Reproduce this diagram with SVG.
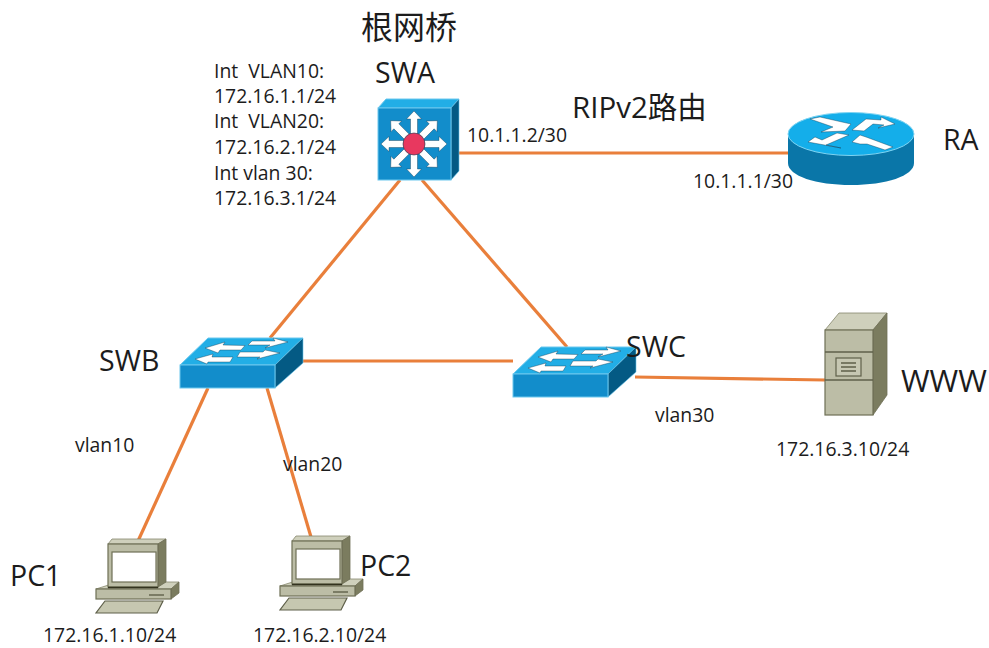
<svg xmlns="http://www.w3.org/2000/svg" width="989" height="648" viewBox="0 0 989 648">
<style>
text{font-family:"Open Sans","Noto Sans CJK SC",sans-serif;fill:#1c1c1c}
.s{font-size:19.4px}
.b{font-size:28.5px}
.c{stroke:#E97F3B;stroke-width:3.2;fill:none}
.ar{fill:#fff;stroke:#12384f;stroke-width:.4}
.bf{fill:#128dcb;stroke:#6cc8ee;stroke-width:1}
.bt{fill:#22aee6;stroke:#6cc8ee;stroke-width:1}
.bs{fill:#045a84;stroke:#6cc8ee;stroke-width:.6}
.gf{fill:#bcbda6;stroke:#6e6f55;stroke-width:1.2}
.gt{fill:#cfd0bc;stroke:#85866c;stroke-width:.8}
.gs{fill:#7b7c5f;stroke:#6e6f55;stroke-width:.8}
.gl{stroke:#5f604a;stroke-width:1.4;fill:none}
.sh{fill:#c6c7b0;stroke:#5f604a;stroke-width:1.2}
</style>
<defs>
<polygon id="spoke" class="ar" points="0,-33 7.5,-25 3.5,-25 3.5,-8 -3.5,-8 -3.5,-25 -7.5,-25"/>
<g id="sw">
<polygon class="bt" points="180,365 208,338 303,338 275,365"/>
<polygon class="bs" points="275,365 303,338 303,363 275,388"/>
<rect class="bf" x="180" y="365" width="95" height="23"/>
<polygon class="ar" points="205,348 225,342 223,345 245,345.5 241,350 220,350 218,353"/>
<polygon class="ar" points="288,342 273,338 275,341 252,341 248,345 270,345 265,348"/>
<polygon class="ar" points="195,359 213,354 212,357 233,357 230,362 208,362 207,364"/>
<polygon class="ar" points="280,353 265,350 263,352 240,352 237,357 260,357 257,359"/>
</g>
<g id="pc">
<polygon class="gt" points="96,589 118,582 179,582 171,589"/>
<polygon class="gs" points="171,589 179,582 179,593 171,599"/>
<rect class="gf" x="96" y="589" width="75" height="10"/>
<line class="gl" x1="149" y1="595" x2="164" y2="595"/>
<polygon class="sh" points="105,601 163,601 157,613 96,613"/>
<polygon class="gt" points="108,544 112,539 166,539 158,544"/>
<polygon class="gs" points="158,544 166,539 166,582 158,587"/>
<rect class="gf" x="108" y="544" width="50" height="43"/>
<rect x="112" y="552" width="44" height="30" fill="#fff" stroke="#6e6f55" stroke-width="1.2"/>
<line x1="108" y1="587.5" x2="158" y2="587.5" stroke="#33331f" stroke-width="1.4"/>
</g>
</defs>
<rect width="989" height="648" fill="#fff"/>
<g id="connectors">
<line class="c" x1="459" y1="153" x2="790" y2="153"/>
<line class="c" x1="400" y1="180" x2="270" y2="338"/>
<line class="c" x1="422" y1="180" x2="567" y2="347"/>
<line class="c" x1="303" y1="361" x2="513" y2="361"/>
<line class="c" x1="635" y1="377" x2="825" y2="380"/>
<line class="c" x1="208" y1="388" x2="138" y2="541"/>
<line class="c" x1="267" y1="388" x2="311" y2="537"/>
</g>
<g id="SWA">
<polygon class="bt" points="378,108 386,99 459,99 451,108"/>
<polygon class="bs" points="451,108 459,99 459,171 451,180"/>
<rect class="bf" x="378" y="108" width="73" height="72"/>
<g transform="translate(414 144)">
<use href="#spoke"/>
<use href="#spoke" transform="rotate(45)"/>
<use href="#spoke" transform="rotate(90)"/>
<use href="#spoke" transform="rotate(135)"/>
<use href="#spoke" transform="rotate(180)"/>
<use href="#spoke" transform="rotate(225)"/>
<use href="#spoke" transform="rotate(270)"/>
<use href="#spoke" transform="rotate(315)"/>
<circle r="11" fill="#e8385f" stroke="#12384f" stroke-width=".6"/>
</g>
<text x="361" y="39" font-size="32">根网桥</text>
<text class="b" x="375" y="83">SWA</text>
<text class="s" x="214" y="78" xml:space="preserve">Int  VLAN10:</text>
<text class="s" x="214" y="103">172.16.1.1/24</text>
<text class="s" x="214" y="128" xml:space="preserve">Int  VLAN20:</text>
<text class="s" x="214" y="154">172.16.2.1/24</text>
<text class="s" x="214" y="180">Int vlan 30:</text>
<text class="s" x="214" y="205">172.16.3.1/24</text>
<text class="s" x="467" y="142">10.1.1.2/30</text>
</g>
<g id="RA">
<path d="M788,134 V163 C788,176 816,185 851,185 C886,185 914,176 914,163 V134 Z" fill="#0a76a8"/>
<ellipse cx="851" cy="134" rx="63" ry="21.5" fill="#14aeea" stroke="#7fd4f2" stroke-width="1"/>
<polygon class="ar" points="810,119 820,117 842,122 851,124 845,131 821,132 833,127"/>
<polygon class="ar" points="895,124 881,117 881,120 866,119 852,130 864,131 873,124 884,125 878,128"/>
<polygon class="ar" points="808,142 841,148 826,145 849,135 837,133 822,140 815,137"/>
<polygon class="ar" points="852,142 860,135 866,137 893,147 885,150 867,144 860,144"/>
<text class="b" x="943" y="150">RA</text>
<text class="s" x="693" y="188">10.1.1.1/30</text>
<text x="572" y="118" font-size="29.5">RIPv2路由</text>
</g>
<g id="SWB">
<use href="#sw"/>
<text class="b" x="99" y="371">SWB</text>
<text class="s" x="75" y="452">vlan10</text>
<text class="s" x="283" y="471">vlan20</text>
</g>
<g id="SWC">
<use href="#sw" transform="translate(333 9)"/>
<text class="b" x="626" y="357">SWC</text>
<text class="s" x="655" y="422">vlan30</text>
</g>
<g id="WWW">
<polygon class="gt" points="825,330 839,313 887,313 873,330"/>
<polygon class="gs" points="873,330 887,313 887,395 873,415"/>
<rect class="gf" x="825" y="330" width="48" height="85"/>
<line class="gl" x1="825" y1="352" x2="873" y2="352"/>
<line class="gl" x1="825" y1="380" x2="873" y2="380"/>
<rect x="836" y="358" width="25" height="18" fill="#c6c7b2" stroke="#5f604a" stroke-width="1.2"/>
<path class="gl" d="M841,363H856M841,367H856M841,371H856" stroke-width="1"/>
<text x="901" y="392" font-size="31">WWW</text>
<text class="s" x="776" y="456">172.16.3.10/24</text>
</g>
<g id="PC1">
<use href="#pc"/>
<text class="b" x="10" y="586">PC1</text>
<text class="s" x="43" y="642">172.16.1.10/24</text>
</g>
<g id="PC2">
<use href="#pc" transform="translate(184 -3)"/>
<text class="b" x="360" y="576">PC2</text>
<text class="s" x="253" y="642">172.16.2.10/24</text>
</g>
</svg>
